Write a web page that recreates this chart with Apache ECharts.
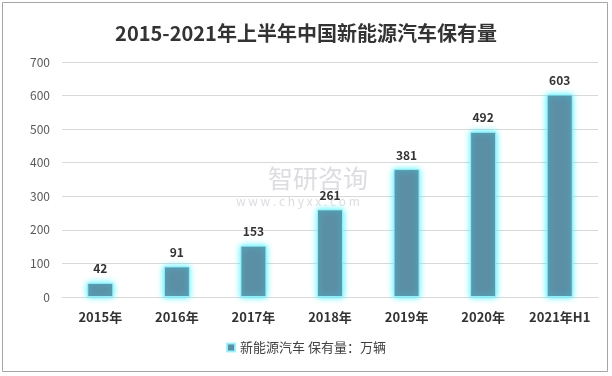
<!DOCTYPE html>
<html>
<head>
<meta charset="utf-8">
<script src="https://cdn.jsdelivr.net/npm/echarts@6/dist/echarts.min.js"></script>
<style>
  html, body { margin: 0; padding: 0; background: #fff; }
  #chart { width: 612px; height: 376px; }
</style>
</head>
<body>
<div id="chart"></div>
<script>
const years = ['2015年', '2016年', '2017年', '2018年', '2019年', '2020年', '2021年H1']
const stock = [42, 91, 153, 261, 381, 492, 603]
const seriesName = '新能源汽车 保有量：万辆'

const chart = echarts.init(document.getElementById('chart'))
const font = '"Microsoft YaHei", "Noto Sans CJK SC", sans-serif'

chart.setOption({
  animation: false,
  title: {
    text: '2015-2021年上半年中国新能源汽车保有量',
    left: 'center',
    top: 18,
    textStyle: { fontFamily: font, fontSize: 20, fontWeight: 'bold', color: '#333' }
  },
  graphic: [
    {
      type: 'rect',
      shape: { x: 2.5, y: 2.5, width: 605, height: 369 },
      style: { fill: 'none', stroke: '#a6a6a6', lineWidth: 1 },
      z: -1
    },
    // watermark
    {
      type: 'text',
      left: 268,
      top: 166,
      style: { text: '智研咨询', fontFamily: font, fontSize: 25, fill: 'rgba(185,185,195,0.5)' },
      z: 0
    },
    {
      type: 'text',
      left: 236,
      top: 195,
      style: { text: 'w w w . c h y x x . c o m', fontFamily: font, fontSize: 12, fill: 'rgba(185,185,195,0.5)' },
      z: 0
    }
  ],
  legend: {
    bottom: 17,
    left: 'center',
    icon: 'rect',
    itemWidth: 8,
    itemHeight: 8,
    itemGap: 6,
    textStyle: { fontFamily: font, fontSize: 13, color: '#404040' }
  },
  grid: { left: 62, right: 14, top: 62, bottom: 79 },
  xAxis: {
    type: 'category',
    data: years,
    axisLine: { lineStyle: { color: '#d9d9d9' } },
    axisTick: { show: false },
    axisLabel: { interval: 0, fontFamily: font, fontSize: 13, fontWeight: 'bold', color: '#333', margin: 14 }
  },
  yAxis: {
    type: 'value',
    min: 0,
    max: 700,
    interval: 100,
    axisLine: { show: false },
    axisTick: { show: false },
    splitLine: { lineStyle: { color: '#d9d9d9' } },
    axisLabel: { fontFamily: font, fontSize: 12, color: '#595959', margin: 12 }
  },
  series: [
    {
      name: seriesName,
      type: 'bar',
      data: stock,
      barWidth: 26,
      itemStyle: {
        color: '#5b8fa5',
        borderColor: 'rgba(150, 245, 255, 0.9)',
        borderWidth: 1,
        shadowColor: 'rgba(60, 240, 255, 1)',
        shadowBlur: 6
      },
      label: {
        show: true,
        position: 'top',
        distance: 8,
        fontFamily: font,
        fontSize: 12,
        fontWeight: 'bold',
        color: '#333'
      }
    }
  ]
})
</script>
</body>
</html>
